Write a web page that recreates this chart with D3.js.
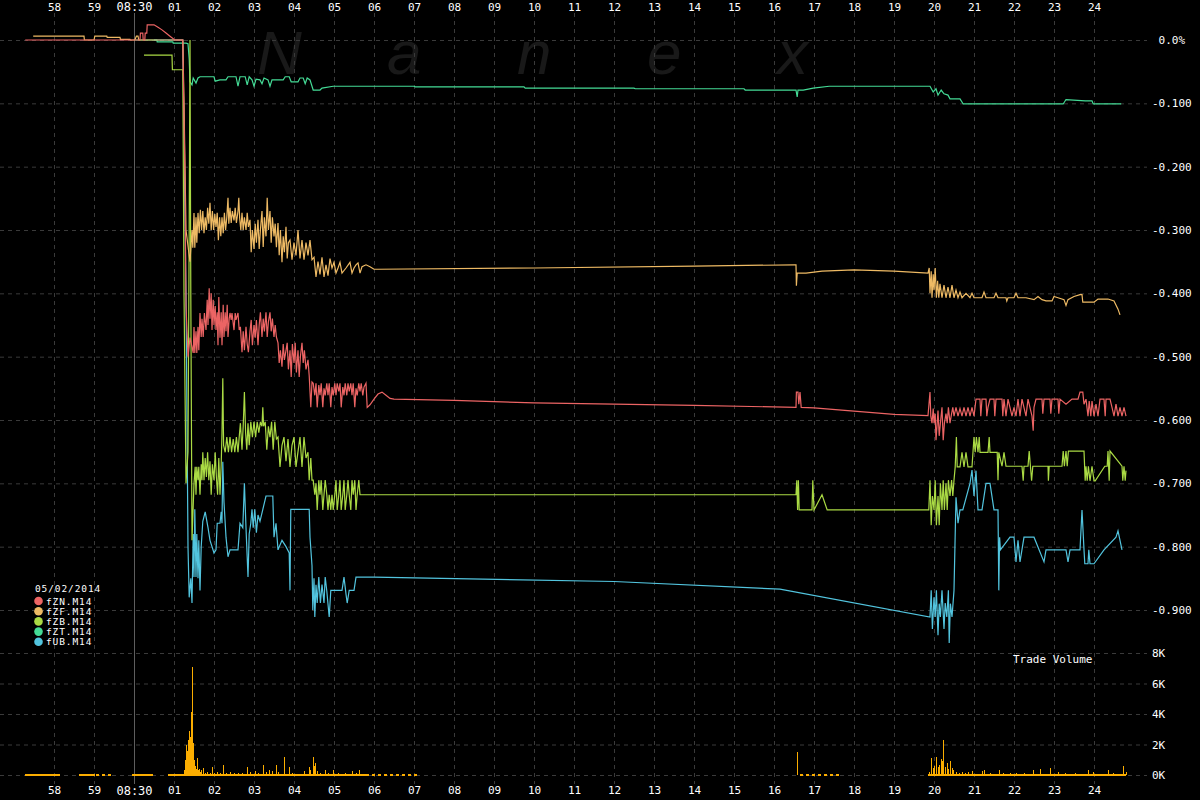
<!DOCTYPE html>
<html><head><meta charset="utf-8">
<script src="https://cdn.jsdelivr.net/npm/d3@7"></script>
<style>body{margin:0;background:#000;} svg{display:block} text{white-space:pre}</style>
</head><body><svg id="c" width="1200" height="800"></svg>
<script>
// ---------- axis data ----------
const tickSeconds = [-2,-1,0,1,2,3,4,5,6,7,8,9,10,11,12,13,14,15,16,17,18,19,20,21,22,23,24];
const tickLabels = ["58","59","08:30","01","02","03","04","05","06","07","08","09","10","11","12","13","14","15","16","17","18","19","20","21","22","23","24"];
const pctTicks = [0,-0.1,-0.2,-0.3,-0.4,-0.5,-0.6,-0.7,-0.8,-0.9];
const pctLabels = [" 0.0%","-0.100","-0.200","-0.300","-0.400","-0.500","-0.600","-0.700","-0.800","-0.900"];
const volTicks = [0,2,4,6,8];
const volLabels = ["0K","2K","4K","6K","8K"];
const legendDate = "05/02/2014";
const seriesNames = ["fZN.M14","fZF.M14","fZB.M14","fZT.M14","fUB.M14"];
const seriesColors = ["#ec6464","#eeba64","#aada44","#44db96","#52c4de"];
const volColor = "#fbad00";
const watermark = ["N","a","n","e","x"];

// ---------- series: [seconds after 08:30:00, % change] ----------
const fZN = [[-2.72,0],[0.15,0],[0.16,0.011],[0.22,0.011],[0.23,0],[0.27,0],[0.28,0.011],[0.32,0.011],[0.33,0.024],[0.5,0.024],[0.6,0.02],[0.7,0.016],[0.8,0.011],[0.9,0.006],[1.02,0],[1.22,0],
[1.27,-0.2],[1.3,-0.42],[1.35,-0.5],[1.4,-0.47],
[1.48,-0.494],[1.5,-0.453],[1.52,-0.494],[1.55,-0.46],[1.57,-0.494],[1.6,-0.453],[1.62,-0.49],
[1.65,-0.431],[1.68,-0.469],[1.7,-0.44],[1.73,-0.469],[1.76,-0.431],
[1.8,-0.458],[1.83,-0.41],[1.85,-0.45],[1.88,-0.392],[1.9,-0.44],[1.93,-0.4],[1.95,-0.458],[1.98,-0.41],[2.0,-0.45],[2.03,-0.42],[2.05,-0.458],[2.08,-0.43],
[2.1,-0.482],[2.12,-0.406],[2.15,-0.47],[2.18,-0.43],[2.2,-0.482],
[2.23,-0.418],[2.25,-0.469],[2.28,-0.43],[2.3,-0.46],[2.33,-0.418],[2.35,-0.469],[2.38,-0.44],
[2.4,-0.431],[2.43,-0.442],[2.45,-0.431],[2.5,-0.458],[2.53,-0.431],[2.55,-0.442],[2.6,-0.431],[2.63,-0.458],
[2.66,-0.453],[2.7,-0.493],[2.73,-0.46],[2.76,-0.49],[2.8,-0.453],[2.83,-0.48],[2.86,-0.493],[2.9,-0.46],
[2.93,-0.442],[2.96,-0.482],[3.0,-0.45],[3.03,-0.47],[3.06,-0.442],[3.1,-0.482],[3.13,-0.45],
[3.16,-0.43],[3.2,-0.469],[3.23,-0.44],[3.26,-0.46],[3.3,-0.43],[3.33,-0.469],[3.36,-0.445],[3.4,-0.43],[3.43,-0.46],[3.46,-0.44],[3.5,-0.469],[3.53,-0.45],[3.56,-0.469],
[3.6,-0.478],[3.63,-0.51],[3.66,-0.49],[3.7,-0.516],[3.73,-0.48],[3.76,-0.505],[3.8,-0.49],
[3.83,-0.478],[3.86,-0.52],[3.9,-0.49],[3.93,-0.532],[3.96,-0.48],[4.0,-0.51],[4.03,-0.478],[4.06,-0.525],[4.1,-0.49],[4.13,-0.532],[4.16,-0.5],[4.2,-0.478],[4.23,-0.51],[4.26,-0.49],[4.3,-0.52],
[4.35,-0.505],[4.38,-0.53],[4.42,-0.58],[4.45,-0.54],
[4.48,-0.542],[4.52,-0.561],[4.55,-0.542],[4.58,-0.58],[4.62,-0.545],[4.65,-0.561],[4.68,-0.542],[4.72,-0.58],[4.75,-0.55],[4.78,-0.561],[4.82,-0.542],[4.85,-0.561],[4.88,-0.542],[4.92,-0.58],[4.95,-0.548],[4.98,-0.561],[5.02,-0.542],[5.05,-0.561],[5.08,-0.542],[5.12,-0.555],[5.15,-0.542],[5.18,-0.58],[5.22,-0.548],[5.25,-0.561],[5.28,-0.542],[5.32,-0.561],[5.35,-0.542],[5.38,-0.555],[5.42,-0.542],[5.45,-0.561],[5.48,-0.542],[5.52,-0.58],[5.55,-0.55],[5.58,-0.561],[5.62,-0.542],[5.65,-0.555],[5.68,-0.542],[5.72,-0.561],[5.75,-0.548],[5.8,-0.542],
[5.83,-0.58],[5.9,-0.576],[6.0,-0.567],[6.1,-0.559],[6.2,-0.556],[6.3,-0.561],[6.4,-0.566],[6.5,-0.567],
[8.0,-0.569],[10.0,-0.573],[12.0,-0.575],[14.0,-0.577],[16.55,-0.58],
[16.56,-0.556],[16.6,-0.556],[16.62,-0.575],[16.65,-0.556],[16.68,-0.58],
[17.0,-0.581],[18.0,-0.586],[19.0,-0.591],[19.85,-0.593],
[19.9,-0.556],[19.92,-0.594],[19.95,-0.605],[19.98,-0.582],[20.0,-0.605],[20.03,-0.59],[20.05,-0.632],[20.08,-0.605],[20.1,-0.585],[20.13,-0.625],[20.16,-0.605],[20.2,-0.58],[20.23,-0.632],[20.26,-0.605],[20.3,-0.59],[20.33,-0.605],[20.36,-0.58],[20.4,-0.605],[20.44,-0.59],[20.47,-0.58],
[20.5,-0.594],[20.55,-0.58],[20.6,-0.594],[20.65,-0.582],[20.7,-0.594],[20.75,-0.58],[20.8,-0.594],[20.85,-0.58],[20.9,-0.594],[20.95,-0.58],[21.0,-0.594],
[21.05,-0.567],[21.15,-0.567],[21.17,-0.594],[21.2,-0.567],[21.3,-0.567],[21.32,-0.594],[21.35,-0.58],[21.4,-0.567],[21.5,-0.567],[21.52,-0.594],[21.55,-0.567],[21.7,-0.567],[21.72,-0.594],[21.75,-0.567],[21.8,-0.594],[21.85,-0.567],[21.95,-0.594],[22.0,-0.58],[22.05,-0.594],[22.1,-0.567],[22.15,-0.594],[22.2,-0.567],[22.3,-0.594],[22.35,-0.567],
[22.45,-0.594],[22.48,-0.617],[22.5,-0.58],[22.55,-0.567],[22.7,-0.567],[22.72,-0.59],[22.75,-0.567],[22.9,-0.567],[22.92,-0.59],[22.95,-0.567],[23.1,-0.567],[23.12,-0.59],[23.15,-0.567],[23.3,-0.575],[23.45,-0.567],[23.6,-0.567],[23.65,-0.556],[23.72,-0.556],[23.75,-0.575],[23.8,-0.567],[23.85,-0.594],[23.88,-0.57],[23.92,-0.594],[23.95,-0.57],[24.0,-0.594],[24.05,-0.575],[24.1,-0.594],[24.15,-0.567],[24.25,-0.567],[24.28,-0.594],[24.3,-0.567],[24.4,-0.567],[24.45,-0.58],[24.5,-0.594],[24.55,-0.575],[24.6,-0.594],[24.65,-0.58],[24.7,-0.594],[24.75,-0.58],[24.8,-0.594]];

const fZF = [[-2.52,0.006],[-1.25,0.006],[-1.24,0],[-1.0,0],[-0.98,0.006],[-0.68,0.006],[-0.67,0.004],[-0.35,0.004],[-0.34,0.001],[-0.1,0.001],[-0.09,0],[0.02,0],[0.06,0.006],[0.1,0.006],[0.12,0],[1.22,0],
[1.25,-0.1],[1.3,-0.3],[1.4,-0.35],[1.45,-0.3],
[1.47,-0.328],[1.5,-0.273],[1.52,-0.328],[1.55,-0.28],[1.57,-0.32],[1.6,-0.273],
[1.63,-0.305],[1.66,-0.268],[1.69,-0.3],[1.72,-0.27],[1.75,-0.305],
[1.78,-0.28],[1.81,-0.3],[1.84,-0.265],[1.87,-0.29],[1.9,-0.257],[1.93,-0.3],[1.96,-0.27],[1.99,-0.3],[2.02,-0.275],[2.05,-0.295],
[2.08,-0.273],[2.11,-0.316],[2.14,-0.28],[2.17,-0.31],[2.2,-0.28],
[2.23,-0.305],[2.26,-0.273],[2.29,-0.3],[2.32,-0.28],[2.35,-0.249],[2.37,-0.29],
[2.4,-0.265],[2.43,-0.289],[2.46,-0.27],[2.5,-0.285],[2.53,-0.265],[2.56,-0.289],[2.6,-0.27],[2.62,-0.249],[2.64,-0.28],
[2.67,-0.3],[2.7,-0.273],[2.73,-0.3],[2.76,-0.28],[2.8,-0.3],[2.83,-0.273],[2.86,-0.295],
[2.9,-0.284],[2.93,-0.335],[2.96,-0.3],[3.0,-0.33],[3.03,-0.29],[3.06,-0.32],[3.1,-0.284],[3.13,-0.33],
[3.16,-0.3],[3.2,-0.27],[3.23,-0.327],[3.26,-0.28],[3.3,-0.31],[3.33,-0.249],[3.36,-0.3],[3.4,-0.27],[3.43,-0.32],[3.46,-0.28],[3.5,-0.31],[3.53,-0.29],[3.56,-0.327],
[3.6,-0.289],[3.63,-0.34],[3.66,-0.3],[3.7,-0.351],[3.73,-0.31],[3.76,-0.335],[3.8,-0.295],[3.83,-0.345],[3.86,-0.32],
[3.9,-0.316],[3.95,-0.347],[4.0,-0.32],[4.05,-0.34],[4.1,-0.3],[4.15,-0.345],[4.2,-0.316],[4.25,-0.347],[4.3,-0.32],[4.35,-0.34],[4.4,-0.316],[4.45,-0.347],
[4.5,-0.343],[4.55,-0.374],[4.6,-0.35],[4.65,-0.37],[4.7,-0.343],[4.75,-0.374],[4.8,-0.355],[4.85,-0.372],[4.9,-0.345],[4.95,-0.36],
[5.0,-0.351],[5.05,-0.368],[5.1,-0.36],[5.15,-0.351],[5.2,-0.368],[5.3,-0.36],[5.4,-0.351],[5.45,-0.368],[5.5,-0.36],[5.55,-0.355],[5.6,-0.352],[5.65,-0.368],[5.7,-0.358],
[5.8,-0.355],[5.9,-0.358],[6.0,-0.362],[6.1,-0.362],
[10.0,-0.36],[14.0,-0.357],[16.52,-0.355],
[16.55,-0.355],[16.56,-0.388],[16.58,-0.368],[16.8,-0.368],[17.2,-0.365],[18.0,-0.363],[19.0,-0.365],[19.85,-0.368],
[19.88,-0.36],[19.9,-0.4],[19.93,-0.365],[19.95,-0.407],[19.98,-0.37],[20.0,-0.395],[20.03,-0.36],[20.06,-0.407],[20.09,-0.38],[20.12,-0.407],[20.15,-0.385],[20.2,-0.407],
[20.25,-0.387],[20.3,-0.407],[20.35,-0.39],[20.4,-0.407],[20.45,-0.387],[20.5,-0.407],[20.55,-0.395],[20.6,-0.407],[20.65,-0.398],[20.7,-0.407],[20.8,-0.4],[20.9,-0.407],[20.95,-0.4],
[21.0,-0.407],[21.2,-0.407],[21.25,-0.398],[21.3,-0.407],[21.5,-0.407],[21.55,-0.4],[21.6,-0.407],[21.8,-0.407],[21.82,-0.412],[21.85,-0.407],[22.0,-0.407],[22.05,-0.4],[22.1,-0.407],[22.3,-0.407],
[22.5,-0.41],[22.6,-0.405],[22.7,-0.41],[22.8,-0.412],[22.95,-0.412],[23.0,-0.405],[23.1,-0.407],[23.25,-0.41],[23.3,-0.419],[23.35,-0.41],[23.5,-0.405],[23.65,-0.402],[23.7,-0.402],[23.72,-0.414],[24.0,-0.414],[24.1,-0.409],[24.35,-0.409],[24.5,-0.412],[24.6,-0.425],[24.65,-0.434]];

const fZB = [[0.25,-0.024],[0.95,-0.024],[0.96,-0.047],[1.22,-0.047],[1.25,-0.4],[1.3,-0.7],[1.35,-0.65],[1.38,-0.3],[1.4,0],[1.42,-0.4],[1.45,-0.79],[1.5,-0.7],
[1.53,-0.674],[1.55,-0.718],[1.57,-0.674],[1.6,-0.695],[1.62,-0.674],[1.65,-0.718],[1.68,-0.67],[1.7,-0.695],[1.72,-0.651],
[1.75,-0.695],[1.78,-0.66],[1.81,-0.69],[1.84,-0.651],[1.87,-0.695],[1.9,-0.665],[1.93,-0.718],[1.96,-0.67],[2.0,-0.695],[2.03,-0.651],[2.06,-0.69],
[2.09,-0.718],[2.12,-0.66],[2.15,-0.718],[2.18,-0.67],
[2.2,-0.62],[2.22,-0.534],[2.24,-0.64],
[2.28,-0.651],[2.32,-0.627],[2.36,-0.651],[2.4,-0.627],[2.44,-0.651],[2.48,-0.63],[2.52,-0.651],[2.56,-0.627],[2.6,-0.651],[2.63,-0.627],
[2.66,-0.605],[2.7,-0.647],[2.73,-0.61],[2.76,-0.556],[2.79,-0.62],[2.82,-0.647],[2.85,-0.605],[2.88,-0.64],
[2.92,-0.603],[2.96,-0.627],[3.0,-0.603],[3.04,-0.627],[3.08,-0.603],[3.12,-0.62],[3.16,-0.603],
[3.2,-0.61],[3.22,-0.58],[3.24,-0.61],
[3.28,-0.603],[3.32,-0.647],[3.36,-0.61],[3.4,-0.627],[3.44,-0.603],[3.48,-0.647],[3.52,-0.603],[3.56,-0.63],
[3.6,-0.627],[3.65,-0.674],[3.7,-0.64],[3.75,-0.627],[3.8,-0.665],[3.85,-0.63],[3.9,-0.674],[3.95,-0.64],[4.0,-0.627],[4.05,-0.674],[4.1,-0.65],[4.15,-0.627],[4.2,-0.674],[4.25,-0.627],[4.3,-0.66],
[4.35,-0.651],[4.38,-0.695],[4.42,-0.66],[4.45,-0.695],
[4.48,-0.695],[4.52,-0.718],[4.55,-0.7],[4.58,-0.742],[4.62,-0.695],[4.65,-0.718],[4.68,-0.695],[4.72,-0.742],[4.75,-0.718],[4.78,-0.695],[4.82,-0.718],[4.85,-0.742],[4.88,-0.718],[4.92,-0.742],[4.95,-0.718],[4.98,-0.742],[5.02,-0.718],[5.05,-0.695],[5.08,-0.742],[5.12,-0.718],[5.15,-0.695],[5.18,-0.742],[5.22,-0.718],[5.25,-0.695],[5.28,-0.742],[5.32,-0.718],[5.35,-0.695],[5.38,-0.718],[5.42,-0.742],[5.45,-0.695],[5.48,-0.718],[5.52,-0.695],[5.55,-0.742],[5.58,-0.718],[5.62,-0.695],[5.65,-0.718],[5.7,-0.718],
[16.55,-0.718],
[16.57,-0.695],[16.59,-0.742],[16.61,-0.695],[16.63,-0.742],[16.65,-0.742],
[16.95,-0.742],[16.97,-0.695],[17.0,-0.742],[17.2,-0.718],[17.33,-0.742],[19.87,-0.742],
[19.9,-0.695],[19.93,-0.766],[19.96,-0.72],[20.0,-0.742],[20.03,-0.695],[20.06,-0.766],[20.1,-0.72],[20.13,-0.766],[20.16,-0.7],[20.2,-0.742],[20.23,-0.695],[20.26,-0.742],[20.3,-0.7],[20.33,-0.742],[20.36,-0.695],[20.4,-0.72],[20.44,-0.695],[20.47,-0.72],
[20.5,-0.695],[20.53,-0.674],[20.56,-0.627],[20.58,-0.674],[20.65,-0.674],[20.7,-0.651],[20.75,-0.674],[20.8,-0.651],[20.85,-0.674],[20.95,-0.674],
[21.0,-0.627],[21.03,-0.651],[21.06,-0.627],[21.1,-0.651],[21.13,-0.627],[21.15,-0.651],
[21.35,-0.651],[21.38,-0.627],[21.4,-0.651],[21.58,-0.651],[21.6,-0.695],[21.62,-0.651],
[21.7,-0.673],[21.75,-0.651],[21.8,-0.673],[22.2,-0.673],[22.23,-0.696],[22.25,-0.673],[22.35,-0.673],[22.38,-0.649],[22.44,-0.696],[22.47,-0.673],[22.85,-0.673],[22.86,-0.696],[22.88,-0.673],[23.2,-0.673],[23.23,-0.649],[23.26,-0.673],[23.3,-0.649],[23.33,-0.673],[23.36,-0.649],[23.4,-0.649],[23.75,-0.649],[23.78,-0.696],[23.8,-0.673],[23.83,-0.696],[23.86,-0.673],[23.9,-0.696],[23.95,-0.673],[24.0,-0.696],[24.03,-0.696],[24.27,-0.673],[24.33,-0.673],[24.35,-0.649],[24.38,-0.696],[24.4,-0.649],[24.7,-0.673],[24.72,-0.696],[24.75,-0.673],[24.78,-0.696],[24.8,-0.68]];

const fZT = [[0,0],[0.57,0],[0.58,-0.003],[0.97,-0.003],[0.98,-0.005],[1.3,-0.005],[1.35,-0.006],[1.38,-0.03],[1.4,-0.066],[1.45,-0.071],[1.48,-0.06],[1.55,-0.068],[1.6,-0.06],[1.65,-0.058],[2.0,-0.058],[2.03,-0.065],[2.15,-0.063],[2.3,-0.063],[2.35,-0.058],[2.55,-0.058],[2.6,-0.073],[2.65,-0.058],[2.78,-0.058],[2.83,-0.071],[2.88,-0.058],[2.95,-0.063],[3.0,-0.073],[3.05,-0.062],[3.15,-0.063],[3.2,-0.069],[3.25,-0.06],[3.35,-0.063],[3.4,-0.073],[3.45,-0.063],[3.73,-0.063],[3.78,-0.058],[3.88,-0.058],[3.93,-0.066],[4.1,-0.066],[4.15,-0.06],[4.23,-0.06],[4.28,-0.069],[4.33,-0.06],[4.4,-0.063],[4.48,-0.079],[4.65,-0.079],[4.7,-0.076],[4.98,-0.073],[7.0,-0.073],[7.03,-0.074],[9.75,-0.074],[9.78,-0.076],[12.5,-0.076],[12.53,-0.077],[15.25,-0.077],[15.28,-0.079],[16.55,-0.079],[16.58,-0.09],[16.6,-0.079],[16.73,-0.079],[16.98,-0.076],[17.38,-0.073],[19.9,-0.073],[19.98,-0.082],[20.05,-0.077],[20.1,-0.087],[20.18,-0.079],[20.25,-0.085],[20.35,-0.087],[20.4,-0.093],[20.65,-0.093],[20.73,-0.101],[23.23,-0.101],[23.3,-0.094],[23.78,-0.096],[23.95,-0.096],[23.98,-0.101],[24.68,-0.101]];

const fUB = [[0.5,0],[1.22,0],[1.3,-0.4],[1.35,-0.8],[1.38,-0.88],[1.42,-0.85],[1.45,-0.889],
[1.48,-0.78],[1.5,-0.848],[1.52,-0.741],[1.55,-0.848],[1.57,-0.78],[1.6,-0.85],[1.62,-0.79],[1.65,-0.869],[1.68,-0.8],
[1.72,-0.76],[1.78,-0.745],[1.85,-0.77],[1.9,-0.79],[1.95,-0.8],[2.0,-0.81],[2.05,-0.805],
[2.08,-0.763],[2.15,-0.763],[2.18,-0.745],[2.2,-0.763],
[2.22,-0.666],[2.25,-0.73],[2.3,-0.785],[2.35,-0.816],[2.4,-0.805],[2.6,-0.805],
[2.65,-0.763],[2.72,-0.77],[2.76,-0.7],[2.8,-0.77],[2.85,-0.848],[2.88,-0.78],
[2.92,-0.763],[2.95,-0.741],[2.98,-0.77],[3.02,-0.741],[3.06,-0.778],[3.1,-0.75],[3.15,-0.76],
[3.3,-0.72],[3.47,-0.72],
[3.5,-0.785],[3.55,-0.763],[3.6,-0.805],
[3.7,-0.79],[3.8,-0.8],[3.88,-0.81],[3.9,-0.869],[3.92,-0.741],
[4.38,-0.741],[4.4,-0.785],
[4.45,-0.83],[4.47,-0.9],[4.5,-0.85],[4.52,-0.911],[4.55,-0.86],[4.58,-0.889],
[4.62,-0.848],[4.66,-0.889],[4.7,-0.86],[4.75,-0.889],[4.78,-0.848],[4.82,-0.87],
[4.88,-0.911],[4.92,-0.869],
[5.2,-0.869],[5.25,-0.848],[5.3,-0.875],[5.33,-0.889],[5.38,-0.869],[5.5,-0.869],[5.55,-0.848],[6.0,-0.848],
[12.0,-0.855],[16.15,-0.867],[19.9,-0.911],
[19.93,-0.869],[19.96,-0.93],[20.0,-0.88],[20.03,-0.911],[20.06,-0.869],[20.1,-0.94],[20.13,-0.89],[20.16,-0.911],[20.2,-0.869],[20.25,-0.93],[20.28,-0.889],[20.32,-0.911],[20.36,-0.869],[20.38,-0.952],[20.41,-0.89],[20.45,-0.911],
[20.5,-0.869],[20.55,-0.722],[20.6,-0.763],[20.65,-0.742],[20.72,-0.742],
[20.9,-0.7],[20.95,-0.679],[21.0,-0.72],[21.05,-0.68],[21.1,-0.742],[21.2,-0.742],[21.3,-0.7],[21.4,-0.7],[21.5,-0.742],
[21.6,-0.742],[21.62,-0.869],[21.64,-0.785],[21.66,-0.805],[21.9,-0.785],[22.0,-0.785],[22.05,-0.824],[22.1,-0.79],[22.15,-0.824],[22.25,-0.785],[22.5,-0.785],[22.75,-0.824],[22.8,-0.805],[23.3,-0.805],[23.35,-0.824],[23.4,-0.805],[23.65,-0.805],[23.7,-0.742],[23.75,-0.805],[23.77,-0.827],[23.85,-0.827],[23.87,-0.805],[23.9,-0.827],[24.0,-0.827],[24.25,-0.805],[24.55,-0.785],[24.6,-0.775],[24.7,-0.805]];

// ---------- trade volume: [seconds, thousands of contracts] ----------
const volume = [[1.25,0.33],[1.275,1.0],[1.3,2.0],[1.325,1.6],[1.35,2.3],[1.375,2.9],[1.4,2.5],[1.425,4.1],[1.45,7.1],[1.475,2.1],[1.5,1.0],[1.525,0.6],[1.55,0.4],[1.575,1.1],[1.6,0.3],[1.625,0.4],[1.65,0.2],[1.675,0.3],
[1.725,0.45],[1.775,0.15],[1.825,0.2],[1.9,0.1],[1.95,0.5],[2.0,0.15],[2.075,0.2],[2.15,0.12],[2.225,0.65],[2.3,0.15],[2.4,0.2],[2.5,0.1],[2.6,0.12],[2.7,0.15],[2.825,0.55],[2.9,0.2],[3.025,0.25],[3.1,0.15],[3.225,0.65],[3.3,0.2],[3.375,0.3],[3.45,0.25],[3.55,0.65],[3.6,0.2],[3.75,1.2],[3.875,0.5],[3.95,0.15],[4.25,0.25],[4.375,0.55],[4.4,0.35],[4.475,1.2],[4.5,0.6],[4.525,0.8],[4.575,0.25],[4.65,0.15],[4.775,0.35],[4.85,0.15],[4.975,0.35],[5.1,0.15],[5.275,0.15],[5.45,0.27],[5.55,0.15],[5.625,0.35],
[16.575,1.5],
[19.875,0.2],[19.925,1.1],[19.975,0.45],[20.0,0.6],[20.05,1.15],[20.1,0.5],[20.125,0.65],[20.175,1.05],[20.2,0.9],[20.225,2.3],[20.275,0.55],[20.325,0.8],[20.35,0.4],[20.4,0.95],[20.45,0.45],[20.475,0.35],[20.55,0.2],[20.625,0.15],[20.7,0.2],[20.775,0.15],[20.85,0.2],[20.95,0.25],[21.2,0.25],[21.25,0.35],[21.4,0.15],[21.625,0.3],[21.725,0.15],[21.9,0.1],[22.05,0.15],[22.25,0.15],[22.475,0.35],[22.65,0.4],[22.9,0.45],[23.1,0.2],[23.275,0.15],[23.525,0.1],[23.85,0.35],[23.975,0.2],[24.35,0.35],[24.475,0.1],[24.725,0.6],[24.8,0.2]];
const volActive = [[-2.72,-1.85],[-1.37,-0.97],[-0.05,0.48],[0.85,5.8],[19.85,24.8]];
const volSparse = [[-0.95,-0.55],[5.8,7.1],[16.65,17.65]];

// ---------- drawing ----------
const svg = d3.select("#c");
const FONT = "'DejaVu Sans Mono','Liberation Mono',monospace";
svg.append("rect").attr("width",1200).attr("height",800).attr("fill","#000");

const x = d3.scaleLinear().domain([-2,24]).range([54,1094]);
const y = d3.scaleLinear().domain([0,-0.9]).range([40,610]);
const yv = d3.scaleLinear().domain([0,8]).range([775,653]);

// watermark
svg.append("g").selectAll("text").data(watermark).join("text")
  .attr("x",(d,i)=>257+i*130).attr("y",74).text(d=>d)
  .attr("font-family","'Liberation Sans',Arial,sans-serif").attr("font-style","italic")
  .attr("font-size",62).attr("fill","#191919");

// vertical grid
const gx = svg.append("g").attr("transform","translate(0,13)")
  .call(d3.axisBottom(x).tickValues(tickSeconds).tickSize(771).tickFormat(""));
gx.select(".domain").remove();
gx.selectAll(".tick line").attr("stroke","#3a3a3a").attr("stroke-dasharray","4,4");
gx.selectAll(".tick line").filter(d=>d===0).attr("stroke","#5e5e5e").attr("stroke-dasharray",null);

// horizontal grids
const gy = svg.append("g").call(d3.axisRight(y).tickValues(pctTicks).tickSize(1147).tickFormat(""));
gy.select(".domain").remove();
gy.selectAll(".tick line").attr("stroke","#3a3a3a").attr("stroke-dasharray","4,4");
const gyv = svg.append("g").call(d3.axisRight(yv).tickValues(volTicks).tickSize(1147).tickFormat(""));
gyv.select(".domain").remove();
gyv.selectAll(".tick line").attr("stroke","#3a3a3a").attr("stroke-dasharray","4,4");

// time labels top & bottom
function styleLabels(g){
  g.select(".domain").remove();
  g.attr("font-family",FONT).attr("font-size",11);
  g.selectAll("text").attr("fill","#ffffff");
  g.selectAll(".tick text").filter(d=>d===0).attr("font-size",12);
}
const tTop = svg.append("g").attr("transform","translate(0,14)")
  .call(d3.axisTop(x).tickValues(tickSeconds).tickSize(0).tickPadding(3).tickFormat((d,i)=>tickLabels[i]));
styleLabels(tTop);
const tBot = svg.append("g").attr("transform","translate(0,783)")
  .call(d3.axisBottom(x).tickValues(tickSeconds).tickSize(0).tickPadding(3).tickFormat((d,i)=>tickLabels[i]));
styleLabels(tBot);

// right labels
const rP = svg.append("g").attr("transform","translate(1149,0)")
  .call(d3.axisRight(y).tickValues(pctTicks).tickSize(0).tickPadding(3).tickFormat((d,i)=>pctLabels[i]));
rP.select(".domain").remove();
rP.attr("font-family",FONT).attr("font-size",11);
rP.selectAll("text").attr("fill","#fff");
const rV = svg.append("g").attr("transform","translate(1149,0)")
  .call(d3.axisRight(yv).tickValues(volTicks).tickSize(0).tickPadding(3).tickFormat((d,i)=>volLabels[i]));
rV.select(".domain").remove();
rV.attr("font-family",FONT).attr("font-size",11);
rV.selectAll("text").attr("fill","#fff");

// volume
const gV = svg.append("g").attr("shape-rendering","crispEdges");
gV.selectAll("rect.base").data(volActive).join("rect").attr("class","base")
  .attr("x",d=>x(d[0])).attr("width",d=>x(d[1])-x(d[0]))
  .attr("y",yv(0)-1).attr("height",2).attr("fill",volColor);
gV.selectAll("line.sparse").data(volSparse).join("line").attr("class","sparse")
  .attr("x1",d=>x(d[0])).attr("x2",d=>x(d[1])).attr("y1",yv(0)).attr("y2",yv(0))
  .attr("stroke",volColor).attr("stroke-width",1.5).attr("stroke-dasharray","3,3");
gV.selectAll("rect.bar").data(volume).join("rect").attr("class","bar")
  .attr("x",d=>x(d[0])-0.5).attr("width",1.6)
  .attr("y",d=>yv(d[1])).attr("height",d=>yv(0)-yv(d[1])).attr("fill",volColor);

svg.append("text").attr("x",1013).attr("y",663).text("Trade Volume")
  .attr("font-family",FONT).attr("font-size",11).attr("fill","#fff");

// price lines
const line = d3.line().x(d=>x(d[0])).y(d=>y(d[1]));
const allSeries = [fZN,fZF,fZB,fZT,fUB];
const order = [4,3,2,1,0];
svg.append("g").selectAll("path").data(order).join("path")
  .attr("d",i=>line(allSeries[i])).attr("fill","none")
  .attr("stroke",i=>seriesColors[i]).attr("stroke-width",1.2).attr("stroke-linejoin","miter");

// legend
const lg = svg.append("g").attr("font-family",FONT).attr("font-size",9.5).attr("letter-spacing",0.9);
lg.append("text").attr("x",35).attr("y",592).text(legendDate).attr("fill","#fff");
const rows = lg.selectAll("g").data(seriesNames).join("g")
  .attr("transform",(d,i)=>`translate(0,${601+i*10.2})`);
rows.append("circle").attr("cx",38.5).attr("cy",0).attr("r",4.3).attr("fill",(d,i)=>seriesColors[i]);
rows.append("text").attr("x",46).attr("y",3.5).text(d=>d).attr("fill","#fff");
</script>
</body></html>
